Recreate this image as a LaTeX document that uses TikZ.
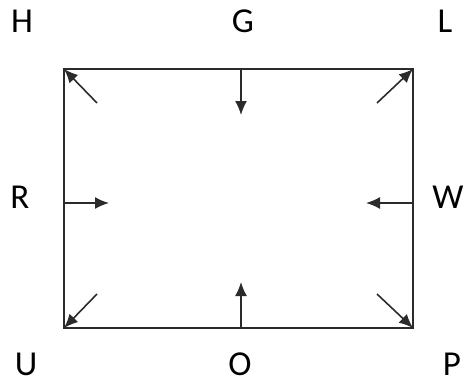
\documentclass[tikz,border=0pt]{standalone}
\usepackage{fontspec}
\setmainfont{Carlito}
\usepackage{xcolor}
\usepackage{tikz}
\usetikzlibrary{arrows.meta, positioning}

\definecolor{edgegray}{HTML}{2B2B2B}

\tikzset{
    letter/.style={anchor=base, inner sep=0pt, font=\fontsize{35}{40}\selectfont},
    frame/.style={draw=edgegray, line width=1.7pt},
    pointer/.style={edgegray, line width=1.6pt, -{Latex[length=14pt,width=12pt]}}
}

\begin{document}
\begin{tikzpicture}[x=1pt, y=-1pt]
        \useasboundingbox (0,0) rectangle (470,385);

        % corners of the box
        \coordinate (tl) at (64,69);
        \coordinate (tr) at (413,69);
        \coordinate (br) at (413,328);
        \coordinate (bl) at (64,328);

        % letters
        \node[letter] (H) at (22,33) {H};
        \node[letter] (G) at (243,33) {G};
        \node[letter] (L) at (445,33) {L};
        \node[letter] (R) at (20,208) {R};
        \node[letter] (W) at (448,208) {W};
        \node[letter] (U) at (26,375) {U};
        \node[letter] (O) at (240,375) {O};
        \node[letter] (P) at (452,375) {P};

        \draw[frame] (tl) -- (tr) -- (br) -- (bl) -- cycle;

        % arrow ends inside the box
        \coordinate (tlin) at (97,103);
        \coordinate (trin) at (377,103);
        \coordinate (blin) at (97,294);
        \coordinate (brin) at (377,294);
        \coordinate (gtop) at (241,69);
        \coordinate (gin)  at (241,115);
        \coordinate (rout) at (64,203);
        \coordinate (rin)  at (109,203);
        \coordinate (wout) at (413,203);
        \coordinate (win)  at (366,203);
        \coordinate (obot) at (241,328);
        \coordinate (oin)  at (241,282);

        \draw[pointer] (tlin) -- (tl);
        \draw[pointer] (trin) -- (tr);
        \draw[pointer] (blin) -- (bl);
        \draw[pointer] (brin) -- (br);
        \draw[pointer] (gtop) -- (gin);
        \draw[pointer] (rout) -- (rin);
        \draw[pointer] (wout) -- (win);
        \draw[pointer] (obot) -- (oin);

\end{tikzpicture}
\end{document}
